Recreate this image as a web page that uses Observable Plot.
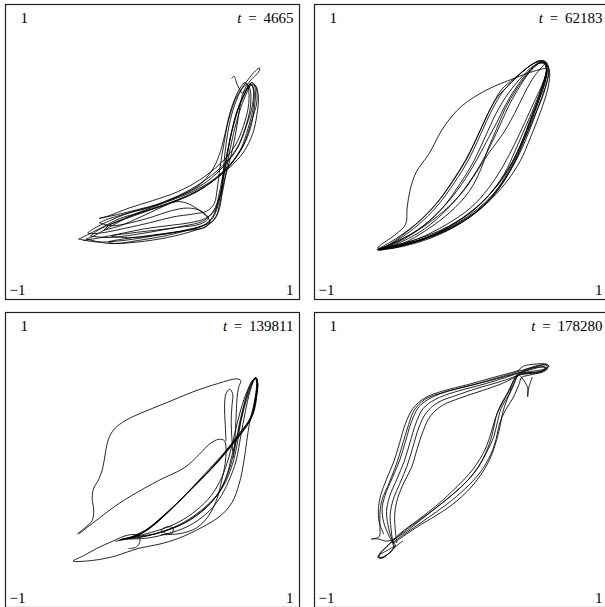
<!DOCTYPE html>
<html>
<head>
<meta charset="utf-8">
<script src="https://cdn.jsdelivr.net/npm/d3@7"></script>
<script src="https://cdn.jsdelivr.net/npm/@observablehq/plot@0.6"></script>
<style>
  body { margin: 0; background: #fff; }
  #fig { position: relative; width: 605px; height: 607px; overflow: hidden; background: #fff; }
  #fig svg { position: absolute; overflow: visible; }
  #fig text { word-spacing: 3px; }
</style>
</head>
<body>
<div id="fig"></div>
<script>
// Snapshot times shown in each panel
const times = [4665, 62183, 139811, 178280];

// Axis corner labels
const topLabel = "1";
const minLabel = "\u22121";
const maxLabel = "1";

// Phase-space trajectories, one list of strokes per snapshot, [x, y] in [-1, 1]
const trajectory4665 = [
  [[-0.36,-0.45],[-0.22,-0.42],[-0.10,-0.39],[0.02,-0.36],[0.12,-0.32],[0.22,-0.28],[0.31,-0.23],[0.38,-0.16],[0.43,-0.08],[0.47,0.03],[0.50,0.15],[0.53,0.26],[0.56,0.35],[0.60,0.42],[0.65,0.49],[0.70,0.55],[0.73,0.57],[0.72,0.54],[0.68,0.50],[0.64,0.45],[0.61,0.38],[0.59,0.28],[0.57,0.15],[0.54,0.0],[0.50,-0.15],[0.46,-0.30],[0.42,-0.40],[0.36,-0.45],[0.25,-0.48],[0.10,-0.50],[-0.05,-0.52],[-0.20,-0.55],[-0.35,-0.58],[-0.47,-0.60]],
  [[0.54,0.50],[0.555,0.515],[0.565,0.49],[0.575,0.46],[0.59,0.43],[0.61,0.40],[0.64,0.43],[0.67,0.47],[0.69,0.46],[0.70,0.40],[0.69,0.28],[0.66,0.14],[0.60,0.01],[0.51,-0.11],[0.38,-0.22],[0.24,-0.30],[0.09,-0.36],[-0.08,-0.41],[-0.22,-0.45],[-0.34,-0.51],[-0.44,-0.56],[-0.50,-0.59]],
  [[-0.50,-0.59],[-0.38,-0.61],[-0.20,-0.60],[0.00,-0.57],[0.18,-0.54],[0.32,-0.51],[0.40,-0.46],[0.44,-0.38],[0.47,-0.25],[0.50,-0.08],[0.53,0.10],[0.57,0.26],[0.62,0.38],[0.66,0.45],[0.70,0.45],[0.72,0.38],[0.71,0.25],[0.68,0.12],[0.62,0.0],[0.53,-0.10],[0.42,-0.19],[0.30,-0.27],[0.16,-0.33],[0.02,-0.38],[-0.12,-0.43],[-0.26,-0.48],[-0.37,-0.53],[-0.42,-0.57]],
  [[-0.42,-0.57],[-0.30,-0.58],[-0.12,-0.56],[0.06,-0.53],[0.22,-0.50],[0.34,-0.47],[0.40,-0.42],[0.45,-0.32],[0.48,-0.18],[0.51,0.0],[0.55,0.18],[0.59,0.32],[0.64,0.42],[0.67,0.46],[0.69,0.42],[0.685,0.30],[0.65,0.16],[0.60,0.02],[0.51,-0.11],[0.39,-0.21],[0.25,-0.29],[0.10,-0.35],[-0.05,-0.40],[-0.19,-0.45],[-0.30,-0.50],[-0.33,-0.53]],
  [[-0.33,-0.53],[-0.22,-0.50],[-0.08,-0.44],[0.05,-0.38],[0.14,-0.34],[0.21,-0.34],[0.28,-0.37],[0.35,-0.42],[0.39,-0.47],[0.36,-0.51],[0.25,-0.53],[0.10,-0.55],[-0.05,-0.57],[-0.20,-0.59],[-0.30,-0.61],[-0.25,-0.62],[-0.10,-0.60],[0.08,-0.57],[0.24,-0.53],[0.36,-0.49],[0.42,-0.42],[0.45,-0.30],[0.49,-0.10],[0.53,0.10],[0.58,0.28],[0.63,0.40],[0.665,0.46],[0.685,0.43],[0.68,0.32],[0.64,0.18],[0.58,0.03],[0.49,-0.09],[0.37,-0.20],[0.23,-0.28],[0.08,-0.34],[-0.08,-0.39],[-0.22,-0.43],[-0.32,-0.46],[-0.36,-0.48]],
  [[-0.36,-0.48],[-0.28,-0.50],[-0.15,-0.48],[0.0,-0.44],[0.12,-0.40],[0.24,-0.38],[0.33,-0.40],[0.38,-0.45],[0.32,-0.49],[0.18,-0.51],[0.02,-0.53],[-0.15,-0.55],[-0.28,-0.57],[-0.15,-0.58],[0.05,-0.56],[0.22,-0.53],[0.34,-0.50],[0.41,-0.47],[0.45,-0.40],[0.47,-0.30],[0.48,-0.15],[0.50,0.05],[0.53,0.22],[0.57,0.35],[0.61,0.43],[0.645,0.46],[0.665,0.42],[0.665,0.30],[0.63,0.16],[0.57,0.02],[0.47,-0.10],[0.33,-0.21],[0.19,-0.29],[0.04,-0.36],[-0.12,-0.42],[-0.24,-0.48],[-0.33,-0.53],[-0.40,-0.57],[-0.45,-0.59]],
  [[-0.45,-0.59],[-0.30,-0.62],[-0.10,-0.61],[0.10,-0.58],[0.26,-0.54],[0.37,-0.50],[0.43,-0.44],[0.46,-0.34],[0.49,-0.20],[0.52,-0.02],[0.56,0.16],[0.60,0.30],[0.645,0.41],[0.675,0.47],[0.70,0.45],[0.71,0.34],[0.67,0.20],[0.62,0.05],[0.53,-0.08],[0.41,-0.19],[0.27,-0.27],[0.12,-0.33],[-0.03,-0.38]],
  [[-0.03,-0.38],[-0.18,-0.42],[-0.30,-0.47],[-0.40,-0.52],[-0.44,-0.55],[-0.36,-0.55],[-0.20,-0.52],[-0.02,-0.48],[0.14,-0.44],[0.28,-0.42],[0.37,-0.40],[0.42,-0.35],[0.44,-0.25],[0.46,-0.10],[0.49,0.08],[0.52,0.24],[0.56,0.36],[0.60,0.44],[0.63,0.47],[0.65,0.44],[0.655,0.33],[0.62,0.18],[0.56,0.04],[0.46,-0.08],[0.32,-0.19],[0.17,-0.27],[0.0,-0.33],[-0.16,-0.38],[-0.29,-0.43],[-0.36,-0.45]]
];

const trajectory62183 = [
  [[0.58,0.57],[0.50,0.55],[0.36,0.50],[0.17,0.42],[0.0,0.31],[-0.12,0.17],[-0.22,-0.01],[-0.31,-0.14],[-0.35,-0.26],[-0.37,-0.38],[-0.38,-0.49],[-0.45,-0.56],[-0.57,-0.65],[-0.45,-0.63],[-0.30,-0.59],[-0.12,-0.52],[0.05,-0.42],[0.18,-0.30],[0.29,-0.15],[0.37,0.02],[0.44,0.18],[0.50,0.32],[0.55,0.45],[0.58,0.55]],
  [[-0.57,-0.66],[-0.45,-0.59],[-0.30,-0.48],[-0.17,-0.35],[-0.06,-0.20],[0.04,-0.04],[0.12,0.13],[0.20,0.30],[0.27,0.42],[0.36,0.50],[0.46,0.58],[0.53,0.62],[0.57,0.61],[0.58,0.55],[0.55,0.44],[0.50,0.30],[0.44,0.14],[0.37,-0.02],[0.28,-0.18],[0.16,-0.32],[0.02,-0.44],[-0.16,-0.55],[-0.35,-0.62],[-0.50,-0.65],[-0.57,-0.665]],
  [[-0.57,-0.665],[-0.44,-0.60],[-0.29,-0.49],[-0.16,-0.36],[-0.05,-0.21],[0.05,-0.05],[0.13,0.12],[0.21,0.29],[0.29,0.42],[0.40,0.53],[0.49,0.60],[0.555,0.61],[0.575,0.57],[0.56,0.47],[0.52,0.35],[0.46,0.20],[0.40,0.04],[0.32,-0.13],[0.22,-0.28],[0.08,-0.41],[-0.10,-0.52],[-0.30,-0.60],[-0.48,-0.645],[-0.565,-0.66]],
  [[-0.565,-0.66],[-0.43,-0.61],[-0.27,-0.51],[-0.13,-0.38],[-0.02,-0.23],[0.08,-0.07],[0.16,0.10],[0.24,0.27],[0.32,0.40],[0.42,0.52],[0.50,0.59],[0.56,0.60],[0.58,0.56],[0.57,0.48],[0.53,0.36],[0.48,0.22],[0.42,0.07],[0.35,-0.09],[0.26,-0.24],[0.13,-0.38],[-0.05,-0.50],[-0.26,-0.59],[-0.46,-0.64],[-0.56,-0.66]],
  [[-0.56,-0.66],[-0.42,-0.60],[-0.26,-0.50],[-0.12,-0.37],[0.0,-0.22],[0.10,-0.06],[0.17,0.07],[0.24,0.20],[0.30,0.32],[0.38,0.45],[0.47,0.56],[0.54,0.61],[0.585,0.585],[0.59,0.52],[0.56,0.40],[0.50,0.25],[0.43,0.09],[0.36,-0.07],[0.27,-0.22],[0.15,-0.36],[-0.02,-0.49],[-0.22,-0.58],[-0.42,-0.64],[-0.56,-0.665]],
  [[-0.56,-0.665],[-0.41,-0.61],[-0.25,-0.52],[-0.10,-0.39],[0.02,-0.25],[0.12,-0.10],[0.20,0.05],[0.27,0.20],[0.33,0.33],[0.40,0.45],[0.48,0.56],[0.55,0.61],[0.59,0.58],[0.60,0.52],[0.585,0.42],[0.54,0.28],[0.47,0.10],[0.40,-0.06],[0.30,-0.21],[0.17,-0.35],[0.0,-0.48],[-0.20,-0.58],[-0.40,-0.64],[-0.55,-0.665]],
  [[-0.55,-0.665],[-0.45,-0.60],[-0.31,-0.49],[-0.18,-0.36],[-0.07,-0.21],[0.03,-0.05],[0.11,0.11],[0.19,0.28],[0.25,0.38],[0.32,0.45],[0.41,0.54],[0.49,0.60],[0.55,0.62],[0.585,0.60],[0.58,0.52],[0.545,0.40],[0.49,0.26],[0.43,0.11],[0.355,-0.05],[0.26,-0.20],[0.14,-0.34],[-0.03,-0.47],[-0.24,-0.58],[-0.45,-0.64],[-0.57,-0.66]],
  [[-0.55,-0.66],[-0.40,-0.62],[-0.24,-0.53],[-0.08,-0.41],[0.05,-0.27],[0.13,-0.12],[0.18,0.02],[0.24,0.16],[0.30,0.30],[0.37,0.42],[0.45,0.53],[0.52,0.60],[0.57,0.61],[0.58,0.56],[0.55,0.46],[0.49,0.33],[0.43,0.20],[0.36,0.05],[0.28,-0.10],[0.18,-0.25],[0.06,-0.38],[-0.10,-0.49],[-0.30,-0.59],[-0.50,-0.65]],
  [[0.57,0.60],[0.50,0.52],[0.43,0.40],[0.36,0.26],[0.28,0.12],[0.19,0.0],[0.10,-0.14],[0.0,-0.28],[-0.12,-0.40],[-0.28,-0.52],[-0.45,-0.61],[-0.56,-0.66]],
  [[0.60,0.55],[0.57,0.44],[0.52,0.30],[0.46,0.14],[0.40,0.0],[0.33,-0.13],[0.23,-0.28],[0.10,-0.41],[-0.08,-0.52],[-0.28,-0.60],[-0.48,-0.655]]
];

const trajectory139811 = [
  [[-0.51,-0.50],[-0.46,-0.46],[-0.41,-0.41],[-0.40,-0.34],[-0.41,-0.26],[-0.40,-0.19],[-0.37,-0.14],[-0.34,-0.06],[-0.32,0.05],[-0.30,0.14],[-0.26,0.21],[-0.18,0.27],[-0.05,0.33],[0.10,0.39],[0.27,0.46],[0.45,0.52],[0.57,0.55],[0.60,0.54],[0.585,0.49],[0.575,0.42],[0.57,0.32],[0.565,0.22],[0.56,0.12],[0.55,0.02]],
  [[-0.50,-0.50],[-0.37,-0.40],[-0.25,-0.31],[-0.14,-0.24],[0.04,-0.14],[0.22,-0.05],[0.32,0.04],[0.39,0.11],[0.45,0.14],[0.49,0.13],[0.50,0.05],[0.49,-0.05],[0.47,-0.14],[0.44,-0.26],[0.38,-0.38],[0.30,-0.46],[0.18,-0.50],[0.10,-0.50],[0.06,-0.48],[0.09,-0.455],[0.14,-0.46],[0.13,-0.50],[0.06,-0.505]],
  [[0.50,0.13],[0.495,0.24],[0.49,0.36],[0.50,0.45],[0.525,0.48],[0.545,0.45],[0.54,0.36],[0.535,0.26],[0.54,0.15],[0.545,0.06]],
  [[0.71,0.54],[0.705,0.47],[0.69,0.38],[0.66,0.25],[0.64,0.12],[0.62,-0.02],[0.59,-0.16],[0.54,-0.29],[0.46,-0.38],[0.33,-0.46],[0.18,-0.53],[0.05,-0.57],[-0.10,-0.60],[-0.25,-0.65],[-0.40,-0.68],[-0.54,-0.685],[-0.47,-0.65],[-0.38,-0.60],[-0.27,-0.55],[-0.17,-0.51],[-0.10,-0.51],[-0.085,-0.55],[-0.11,-0.59],[-0.16,-0.60]],
  [[-0.22,-0.54],[-0.08,-0.51],[0.06,-0.47],[0.18,-0.42],[0.30,-0.34],[0.40,-0.24],[0.47,-0.12],[0.52,0.02],[0.56,0.18],[0.60,0.34],[0.645,0.47],[0.685,0.545],[0.71,0.55],[0.71,0.48],[0.695,0.38],[0.67,0.28],[0.60,0.19],[0.50,0.06],[0.38,-0.08],[0.25,-0.21],[0.12,-0.34],[0.0,-0.45],[-0.10,-0.51],[-0.22,-0.54]],
  [[-0.22,-0.54],[-0.06,-0.52],[0.08,-0.48],[0.21,-0.43],[0.33,-0.35],[0.43,-0.25],[0.50,-0.12],[0.54,0.03],[0.58,0.18],[0.62,0.34],[0.66,0.47],[0.695,0.55],[0.715,0.53],[0.71,0.44],[0.69,0.33],[0.64,0.23],[0.55,0.11],[0.43,-0.03],[0.30,-0.16],[0.17,-0.29],[0.05,-0.40],[-0.05,-0.48],[-0.16,-0.53]],
  [[-0.16,-0.53],[-0.02,-0.51],[0.12,-0.47],[0.25,-0.41],[0.37,-0.32],[0.46,-0.21],[0.52,-0.07],[0.56,0.08],[0.59,0.24],[0.63,0.40],[0.675,0.52],[0.70,0.56],[0.715,0.52],[0.70,0.42],[0.68,0.32],[0.62,0.21],[0.52,0.08],[0.40,-0.06],[0.27,-0.19],[0.14,-0.32],[0.02,-0.43],[-0.08,-0.50],[-0.20,-0.535]],
  [[-0.20,-0.535],[-0.04,-0.53],[0.10,-0.50],[0.24,-0.45],[0.36,-0.37],[0.45,-0.27],[0.52,-0.14],[0.57,0.0],[0.60,0.16],[0.63,0.32],[0.665,0.47],[0.70,0.555],[0.71,0.50],[0.695,0.36],[0.66,0.26],[0.57,0.14],[0.45,0.0],[0.32,-0.14],[0.19,-0.27],[0.07,-0.38],[-0.04,-0.47],[-0.14,-0.52]],
  [[-0.14,-0.52],[0.02,-0.50],[0.16,-0.45],[0.28,-0.38],[0.39,-0.29],[0.48,-0.18],[0.54,-0.04],[0.575,0.10],[0.60,0.26],[0.635,0.42],[0.67,0.52],[0.705,0.56],[0.715,0.50],[0.70,0.40],[0.67,0.29],[0.59,0.18],[0.48,0.04],[0.35,-0.10],[0.22,-0.24],[0.10,-0.36],[-0.02,-0.46],[-0.12,-0.52],[-0.25,-0.55]]
];

const trajectory178280 = [
  [[-0.47,-0.56],[-0.50,-0.50],[-0.53,-0.42],[-0.54,-0.33],[-0.52,-0.24],[-0.47,-0.12],[-0.42,0.0],[-0.38,0.13],[-0.34,0.26],[-0.29,0.36],[-0.21,0.42],[-0.08,0.47],[0.08,0.51],[0.22,0.55],[0.34,0.585],[0.45,0.62],[0.54,0.645],[0.59,0.64],[0.57,0.61],[0.48,0.59],[0.40,0.58],[0.36,0.55],[0.33,0.48],[0.28,0.39],[0.24,0.31],[0.22,0.22],[0.19,0.11],[0.13,-0.02],[0.04,-0.14],[-0.08,-0.25],[-0.22,-0.36],[-0.36,-0.46],[-0.47,-0.55],[-0.54,-0.62],[-0.565,-0.655],[-0.54,-0.66],[-0.48,-0.62],[-0.45,-0.58]],
  [[-0.45,-0.58],[-0.48,-0.52],[-0.50,-0.44],[-0.51,-0.35],[-0.49,-0.25],[-0.44,-0.13],[-0.39,-0.01],[-0.35,0.12],[-0.31,0.25],[-0.26,0.35],[-0.18,0.41],[-0.05,0.46],[0.10,0.50],[0.24,0.54],[0.36,0.58],[0.46,0.61],[0.55,0.63],[0.585,0.62],[0.55,0.595],[0.45,0.585],[0.385,0.57],[0.355,0.52],[0.32,0.44],[0.27,0.35],[0.245,0.26],[0.22,0.16],[0.17,0.05],[0.10,-0.07],[0.0,-0.18],[-0.13,-0.29],[-0.27,-0.40],[-0.40,-0.50],[-0.50,-0.55],[-0.57,-0.535],[-0.61,-0.535]],
  [[-0.61,-0.535],[-0.56,-0.52],[-0.555,-0.45],[-0.555,-0.36],[-0.54,-0.27],[-0.49,-0.15],[-0.44,-0.02],[-0.40,0.11],[-0.36,0.24],[-0.32,0.34],[-0.25,0.41],[-0.12,0.46],[0.04,0.50],[0.20,0.54],[0.33,0.575],[0.42,0.60],[0.50,0.63],[0.57,0.645],[0.585,0.63],[0.53,0.60],[0.43,0.59],[0.38,0.575],[0.35,0.53],[0.31,0.45],[0.265,0.37],[0.23,0.28],[0.20,0.18],[0.16,0.07],[0.08,-0.06],[-0.03,-0.18],[-0.16,-0.30],[-0.30,-0.41],[-0.42,-0.50],[-0.50,-0.58],[-0.56,-0.64],[-0.555,-0.665],[-0.49,-0.63],[-0.46,-0.59]],
  [[-0.46,-0.59],[-0.47,-0.54],[-0.48,-0.46],[-0.485,-0.37],[-0.465,-0.27],[-0.42,-0.16],[-0.37,-0.04],[-0.33,0.09],[-0.29,0.22],[-0.24,0.32],[-0.16,0.39],[-0.03,0.44],[0.12,0.49],[0.26,0.53],[0.37,0.57],[0.40,0.59],[0.44,0.615],[0.52,0.63],[0.57,0.63],[0.55,0.60],[0.46,0.575],[0.41,0.56],[0.39,0.51],[0.35,0.42],[0.30,0.34],[0.26,0.25],[0.235,0.14],[0.20,0.04],[0.13,-0.08],[0.03,-0.19],[-0.10,-0.30],[-0.24,-0.40],[-0.37,-0.49],[-0.47,-0.56]],
  [[0.38,0.58],[0.36,0.52],[0.31,0.41],[0.28,0.32],[0.26,0.22],[0.24,0.14],[0.19,0.0],[0.11,-0.13],[0.0,-0.25],[-0.13,-0.35],[-0.28,-0.44],[-0.40,-0.52],[-0.47,-0.57]],
  [[-0.53,-0.50],[-0.56,-0.42],[-0.565,-0.33],[-0.55,-0.24],[-0.51,-0.13],[-0.46,-0.01],[-0.42,0.12],[-0.38,0.25],[-0.33,0.35],[-0.25,0.42],[-0.12,0.47],[0.04,0.51],[0.20,0.555],[0.33,0.59],[0.40,0.61]],
  [[-0.44,-0.56],[-0.45,-0.48],[-0.455,-0.38],[-0.44,-0.28],[-0.40,-0.17],[-0.34,-0.05],[-0.30,0.08],[-0.26,0.20],[-0.21,0.30],[-0.13,0.37],[-0.01,0.42],[0.14,0.47],[0.28,0.52],[0.38,0.57]],
  [[0.40,0.57],[0.43,0.53],[0.45,0.49],[0.45,0.43],[0.455,0.48],[0.47,0.53],[0.48,0.56]],
  [[0.38,0.60],[0.42,0.635],[0.50,0.65],[0.58,0.65],[0.595,0.635],[0.56,0.615],[0.47,0.60],[0.40,0.59]],
  [[-0.45,-0.58],[-0.50,-0.61],[-0.56,-0.645],[-0.57,-0.66],[-0.54,-0.665],[-0.49,-0.63],[-0.44,-0.58],[-0.40,-0.55]]
];

const trajectories = [trajectory4665, trajectory62183, trajectory139811, trajectory178280];

// Panel placement on the page (2 x 2 grid)
const panelPos = [[4, 3], [313, 3], [4, 311], [313, 311]];

const serif = "'Liberation Serif', 'DejaVu Serif', serif";

const fig = document.getElementById("fig");

trajectories.forEach((strokes, i) => {
  const rows = strokes.flatMap((s, k) => s.map(([x, y]) => ({x, y, loop: k})));
  const svg = Plot.plot({
    width: 296,
    height: 297,
    margin: 1,
    x: {domain: [-1, 1], axis: null},
    y: {domain: [-1, 1], axis: null},
    style: {fontFamily: serif, fontSize: "15px", background: "transparent"},
    marks: [
      Plot.line(rows, {x: "x", y: "y", z: "loop", curve: "catmull-rom", stroke: "#000", strokeWidth: 0.85}),
      Plot.frame({stroke: "#222", strokeWidth: 1.2}),
      Plot.text([topLabel], {frameAnchor: "top-left", textAnchor: "start", lineAnchor: "top", dx: 15, dy: 8, fill: "#000"}),
      Plot.text([`t = ${times[i]}`], {frameAnchor: "top-right", textAnchor: "end", lineAnchor: "top", dx: -6, dy: 8, fill: "#000"}),
      Plot.text([minLabel], {frameAnchor: "bottom-left", textAnchor: "start", lineAnchor: "bottom", dx: 4, dy: -5, fill: "#000"}),
      Plot.text([maxLabel], {frameAnchor: "bottom-right", textAnchor: "end", lineAnchor: "bottom", dx: -6, dy: -5, fill: "#000"})
    ]
  });
  // italic time variable
  svg.querySelectorAll("text").forEach(el => {
    const s = el.textContent;
    if (s.startsWith("t = ")) {
      el.textContent = "";
      const ts = document.createElementNS("http://www.w3.org/2000/svg", "tspan");
      ts.setAttribute("font-style", "italic");
      ts.textContent = "t";
      el.appendChild(ts);
      el.appendChild(document.createTextNode(s.slice(1)));
    }
  });
  svg.style.left = panelPos[i][0] + "px";
  svg.style.top = panelPos[i][1] + "px";
  fig.appendChild(svg);
});
</script>
</body>
</html>
